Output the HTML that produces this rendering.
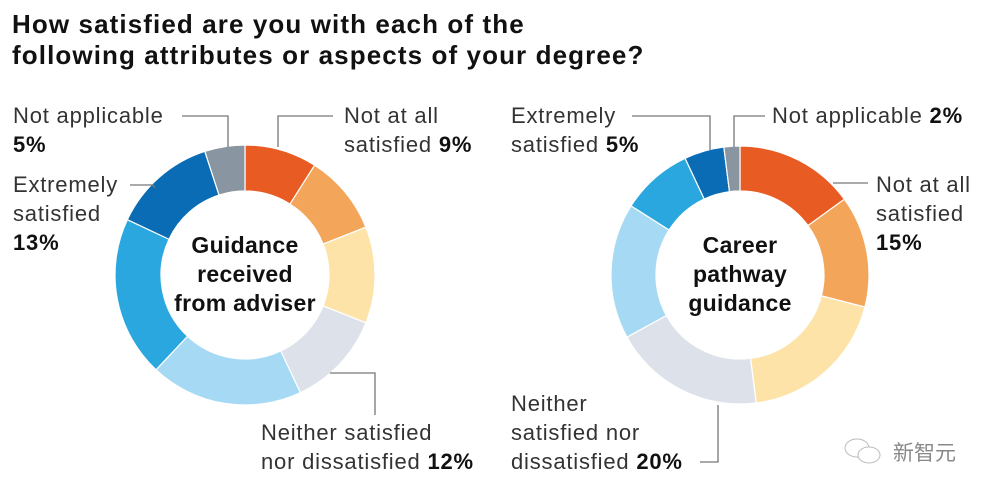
<!DOCTYPE html>
<html><head><meta charset="utf-8">
<style>
body{margin:0;background:#fff;width:998px;height:495px;overflow:hidden;font-family:"Liberation Sans",sans-serif;}
svg{display:block}
.t{font-weight:bold;font-size:26px;letter-spacing:1.1px;fill:#111}
.l{font-size:22px;letter-spacing:0.8px;fill:#333}
.b{font-weight:bold;fill:#111}
.c{font-weight:bold;font-size:23px;letter-spacing:0.3px;fill:#111;text-anchor:middle}
.ld{stroke:#777;stroke-width:1.3;fill:none}
</style></head><body>
<svg id="chart" width="998" height="495">
<text class="t" x="12" y="33">How satisfied are you with each of the</text>
<text class="t" x="12" y="64">following attributes or aspects of your degree?</text>
<g id="d1"></g>
<g id="d2"></g>
<text class="c" x="245" y="253"><tspan x="245">Guidance</tspan><tspan x="245" dy="29">received</tspan><tspan x="245" dy="29">from adviser</tspan></text>
<text class="c" x="740" y="253"><tspan x="740">Career</tspan><tspan x="740" dy="29">pathway</tspan><tspan x="740" dy="29">guidance</tspan></text>

<g>
<text class="l" x="13" y="123"><tspan>Not applicable</tspan><tspan x="13" dy="29" class="b">5%</tspan></text>
<path class="ld" d="M182 116 H228 V147"/>
<text class="l" x="344" y="123"><tspan>Not at all</tspan><tspan x="344" dy="29">satisfied </tspan><tspan class="b">9%</tspan></text>
<path class="ld" d="M333 116 H278 V147"/>
<text class="l" x="13" y="192"><tspan>Extremely</tspan><tspan x="13" dy="29">satisfied</tspan><tspan x="13" dy="29" class="b">13%</tspan></text>
<path class="ld" d="M130 185 H153 L155 188"/>
<text class="l" x="261" y="440"><tspan>Neither satisfied</tspan><tspan x="261" dy="29">nor dissatisfied </tspan><tspan class="b">12%</tspan></text>
<path class="ld" d="M330 373 H375 V415"/>
</g>
<g>
<text class="l" x="511" y="123"><tspan>Extremely</tspan><tspan x="511" dy="29">satisfied </tspan><tspan class="b">5%</tspan></text>
<path class="ld" d="M632 116 H710 V150"/>
<text class="l" x="772" y="123"><tspan>Not applicable </tspan><tspan class="b">2%</tspan></text>
<path class="ld" d="M765 116 H734 V147"/>
<text class="l" x="876" y="192"><tspan>Not at all</tspan><tspan x="876" dy="29">satisfied</tspan><tspan x="876" dy="29" class="b">15%</tspan></text>
<path class="ld" d="M833 183 H868"/>
<text class="l" x="511" y="411"><tspan>Neither</tspan><tspan x="511" dy="29">satisfied nor</tspan><tspan x="511" dy="29">dissatisfied </tspan><tspan class="b">20%</tspan></text>
<path class="ld" d="M718 405 V462 H700"/>
</g>
<g>
<ellipse cx="857" cy="448" rx="12" ry="9" fill="none" stroke="#bbb"/>
<ellipse cx="869" cy="455" rx="11" ry="8" fill="#fff" stroke="#bbb"/>
<text x="893" y="460" font-size="21" fill="#888" font-family="'Noto Sans CJK SC',sans-serif">新智元</text>
</g>
</svg>
<script>
const categories=["Not at all satisfied","Somewhat dissatisfied","Slightly dissatisfied","Neither satisfied nor dissatisfied","Slightly satisfied","Somewhat satisfied","Extremely satisfied","Not applicable"];
const adviserValues=[9,10,12,12,19,20,13,5];
const careerValues=[15,14,19,19,17,9,5,2];
const colors=["#e85c24","#f3a65a","#fde3a7","#dde2ea","#a6daf4","#2ba7e0","#0a6cb4","#8995a0"];
const NS="http://www.w3.org/2000/svg";
function angle(v,total){return v/total*2*Math.PI;}
function pt(cx,cy,r,a){return [cx+r*Math.sin(a),cy-r*Math.cos(a)];}
function donut(g,vals,cx,cy,ro,ri,prefix){
  const total=vals.reduce((a,b)=>a+b,0);let cum=0;
  vals.forEach((v,i)=>{
    const a0=angle(cum,total),a1=angle(cum+v,total);cum+=v;
    const lg=(a1-a0)>Math.PI?1:0;
    const p1=pt(cx,cy,ro,a0),p2=pt(cx,cy,ro,a1),p3=pt(cx,cy,ri,a1),p4=pt(cx,cy,ri,a0);
    const p=document.createElementNS(NS,"path");
    p.setAttribute("d",`M${p1} A${ro} ${ro} 0 ${lg} 1 ${p2} L${p3} A${ri} ${ri} 0 ${lg} 0 ${p4} Z`);
    p.setAttribute("fill",colors[i]);p.setAttribute("stroke","#fff");p.setAttribute("stroke-width","1.2");
    
    
    g.appendChild(p);
  });
}
donut(document.getElementById("d1"),adviserValues,245,275,130,84,"adviser");
donut(document.getElementById("d2"),careerValues,740,275,129,84,"career");
</script>
</body></html>
